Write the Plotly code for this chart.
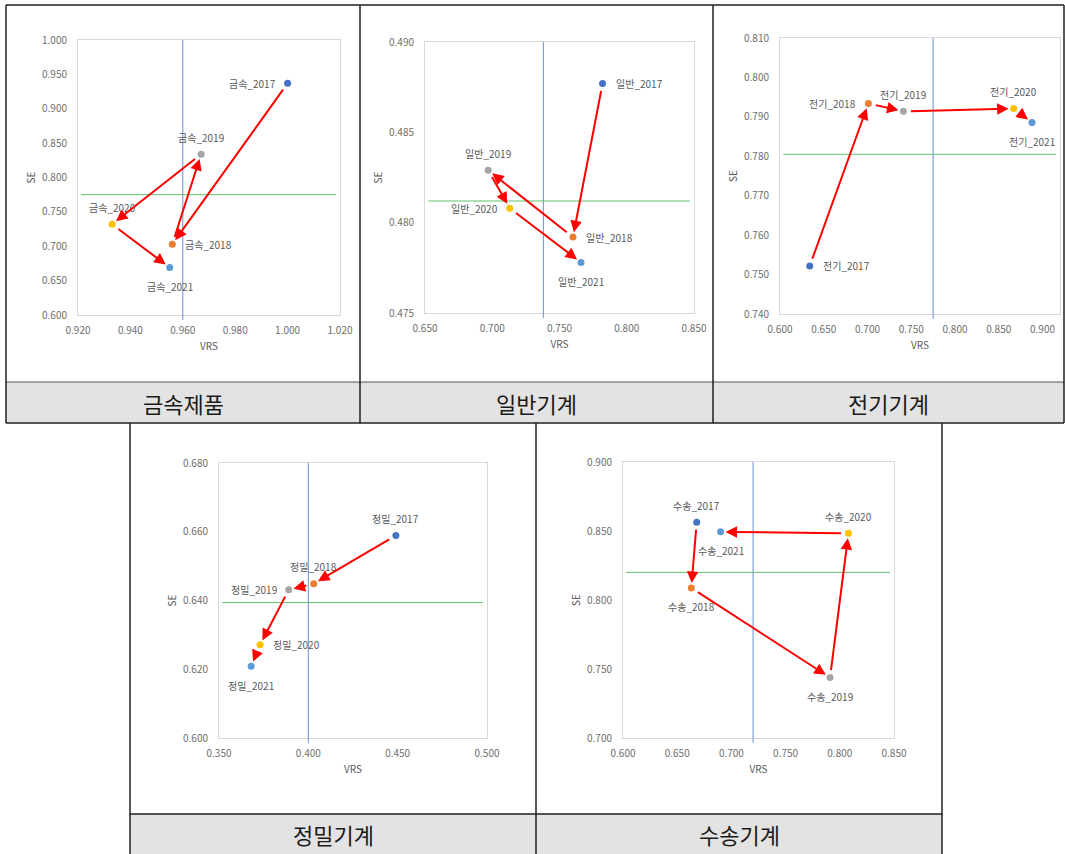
import plotly.graph_objects as go

# ---- data: VRS / SE efficiency by industry, 2017-2021 ----
years = [2017, 2018, 2019, 2020, 2021]
year_colors = ["#4472C4", "#ED7D31", "#A5A5A5", "#FFC000", "#5B9BD5"]

metal_vrs = [1.000, 0.956, 0.967, 0.933, 0.955]
metal_se = [0.937, 0.703, 0.834, 0.732, 0.669]

general_vrs = [0.782, 0.760, 0.697, 0.713, 0.766]
general_se = [0.4877, 0.4792, 0.4829, 0.4808, 0.4778]

elec_vrs = [0.634, 0.701, 0.741, 0.867, 0.888]
elec_se = [0.7522, 0.7934, 0.7914, 0.7921, 0.7886]

prec_vrs = [0.449, 0.403, 0.389, 0.373, 0.368]
prec_se = [0.6589, 0.6449, 0.6431, 0.6271, 0.6209]

trans_vrs = [0.668, 0.663, 0.791, 0.808, 0.690]
trans_se = [0.8564, 0.8087, 0.7438, 0.8484, 0.8494]

# reference (average) lines per industry
vrs_ref = [0.960, 0.738, 0.775, 0.400, 0.720]
se_ref = [0.775, 0.4812, 0.7805, 0.6394, 0.820]

# axis ticks
metal_xticks = [0.92, 0.94, 0.96, 0.98, 1.00, 1.02]
metal_yticks = [0.60, 0.65, 0.70, 0.75, 0.80, 0.85, 0.90, 0.95, 1.00]
general_xticks = [0.65, 0.70, 0.75, 0.80, 0.85]
general_yticks = [0.475, 0.480, 0.485, 0.490]
elec_xticks = [0.60, 0.65, 0.70, 0.75, 0.80, 0.85, 0.90]
elec_yticks = [0.74, 0.75, 0.76, 0.77, 0.78, 0.79, 0.80, 0.81]
prec_xticks = [0.35, 0.40, 0.45, 0.50]
prec_yticks = [0.60, 0.62, 0.64, 0.66, 0.68]
trans_xticks = [0.60, 0.65, 0.70, 0.75, 0.80, 0.85]
trans_yticks = [0.70, 0.75, 0.80, 0.85, 0.90]

# ---- page geometry (pixels) ----
W, H = 1065, 854
FONT = "Noto Sans CJK KR"


def px(x):
    return x / W


def py(y):
    return 1 - y / H


panels = [
    dict(title="금속제품", prefix="금속", vrs=metal_vrs, se=metal_se,
         xr=[0.92, 1.02], xt=metal_xticks, yr=[0.60, 1.00], yt=metal_yticks,
         box=(78, 340, 40, 315),
         pos=["left", "right", "top", "top", "bottom"]),
    dict(title="일반기계", prefix="일반", vrs=general_vrs, se=general_se,
         xr=[0.65, 0.85], xt=general_xticks, yr=[0.475, 0.490], yt=general_yticks,
         box=(425, 694, 42, 313),
         pos=["right", "right", "top", "left", "bottom"]),
    dict(title="전기기계", prefix="전기", vrs=elec_vrs, se=elec_se,
         xr=[0.60, 0.92], xt=elec_xticks, yr=[0.74, 0.81], yt=elec_yticks,
         box=(780, 1060, 38, 314),
         pos=["right", "left", "top", "top", "bottom"]),
    dict(title="정밀기계", prefix="정밀", vrs=prec_vrs, se=prec_se,
         xr=[0.35, 0.50], xt=prec_xticks, yr=[0.60, 0.68], yt=prec_yticks,
         box=(219, 487, 463, 738),
         pos=["top", "top", "left", "right", "bottom"]),
    dict(title="수송기계", prefix="수송", vrs=trans_vrs, se=trans_se,
         xr=[0.60, 0.85], xt=trans_xticks, yr=[0.70, 0.90], yt=trans_yticks,
         box=(623, 894, 462, 738),
         pos=["top", "bottom", "bottom", "top", "bottom"]),
]

# label placement around a point: (xanchor, yanchor, xshift, yshift)
LABEL_PLACE = {
    "top": ("center", "middle", 0, 17),
    "bottom": ("center", "middle", 0, -19),
    "left": ("right", "middle", -10, 0),
    "right": ("left", "middle", 11, 0),
}

fig = go.Figure()
label_font = dict(family=FONT, size=10, color="#595959")
tick_font = dict(family=FONT, size=10, color="#6e6e6e")

for i, p in enumerate(panels, start=1):
    xa = "x" if i == 1 else f"x{i}"
    ya = "y" if i == 1 else f"y{i}"
    xkey = "xaxis" if i == 1 else f"xaxis{i}"
    ykey = "yaxis" if i == 1 else f"yaxis{i}"
    l, r, t, b = p["box"]

    fig.update_layout({
        xkey: dict(domain=[px(l), px(r)], range=p["xr"], tickvals=p["xt"],
                   tickformat=".3f", anchor=ya, showgrid=False, zeroline=False,
                   showline=True, mirror=True, linecolor="#D9D9D9", linewidth=1,
                   ticks="outside", ticklen=6, tickcolor="rgba(0,0,0,0)",
                   tickfont=tick_font, fixedrange=True, automargin=False,
                   title=dict(text="VRS", font=label_font, standoff=6)),
        ykey: dict(domain=[py(b), py(t)], range=p["yr"], tickvals=p["yt"],
                   tickformat=".3f", anchor=xa, showgrid=False, zeroline=False,
                   showline=True, mirror=True, linecolor="#D9D9D9", linewidth=1,
                   ticks="outside", ticklen=8, tickcolor="rgba(0,0,0,0)",
                   tickfont=tick_font, fixedrange=True, automargin=False,
                   title=dict(text="SE", font=label_font, standoff=4)),
    })

    # reference lines
    fig.add_shape(type="line", xref=xa, yref=f"{ya} domain",
                  x0=vrs_ref[i - 1], x1=vrs_ref[i - 1], y0=-0.018, y1=1,
                  line=dict(color="#6A8FD6", width=1))
    fig.add_shape(type="line", xref=f"{xa} domain", yref=ya,
                  x0=0.012, x1=0.985, y0=se_ref[i - 1], y1=se_ref[i - 1],
                  line=dict(color="#5EC26C", width=1))

    # yearly points
    fig.add_trace(go.Scatter(
        x=p["vrs"], y=p["se"], mode="markers",
        marker=dict(color=year_colors, size=7, line=dict(width=0)),
        xaxis=xa, yaxis=ya, cliponaxis=False, showlegend=False,
        hoverinfo="skip"))

    # point labels
    for k, yr in enumerate(years):
        xanc, yanc, dx, dy = LABEL_PLACE[p["pos"][k]]
        fig.add_annotation(x=p["vrs"][k], y=p["se"][k], xref=xa, yref=ya,
                           text=f"{p['prefix']}_{yr}", showarrow=False,
                           font=label_font, xanchor=xanc, yanchor=yanc,
                           xshift=dx, yshift=dy)

    # year-to-year movement arrows
    for k in range(len(years) - 1):
        fig.add_annotation(
            x=p["vrs"][k + 1], y=p["se"][k + 1],
            ax=p["vrs"][k], ay=p["se"][k],
            xref=xa, yref=ya, axref=xa, ayref=ya,
            text="", showarrow=True, arrowhead=2, arrowsize=1.15,
            arrowwidth=2, arrowcolor="#FF0000", standoff=5, startstandoff=6)

# ---- table frame and caption cells ----
BORDER = "#1f1f1f"


def rect(x0, y0, x1, y1, fill):
    fig.add_shape(type="rect", xref="paper", yref="paper",
                  x0=px(x0), x1=px(x1), y0=py(y1), y1=py(y0),
                  fillcolor=fill, line=dict(width=0), layer="below")


def line(x0, y0, x1, y1, color=BORDER, width=1.5):
    fig.add_shape(type="line", xref="paper", yref="paper",
                  x0=px(x0), x1=px(x1), y0=py(y0), y1=py(y1),
                  line=dict(color=color, width=width))


# caption backgrounds
rect(6, 382, 1064, 423, "#E3E3E3")
rect(130, 814, 942, 854, "#E3E3E3")

# top row frame
line(6, 5, 1064, 5)
line(6, 423, 1064, 423)
line(6, 382, 1064, 382, color="#555555", width=1)
for xv in (6, 360, 713, 1064):
    line(xv, 5, xv, 423)

# bottom row frame
line(130, 814, 942, 814)
for xv in (130, 536, 942):
    line(xv, 423, xv, 854)

# caption texts
captions = [(183, 403), (536, 403), (888, 403), (333, 834), (739, 834)]
for p, (cx, cy) in zip(panels, captions):
    fig.add_annotation(xref="paper", yref="paper", x=px(cx), y=py(cy),
                       text=p["title"], showarrow=False,
                       font=dict(family=FONT, size=22, color="#1a1a1a"),
                       xanchor="center", yanchor="middle")

fig.update_layout(width=W, height=H,
                  margin=dict(l=0, r=0, t=0, b=0, pad=0, autoexpand=False),
                  paper_bgcolor="white", plot_bgcolor="white",
                  font=dict(family=FONT))

fig.write_html("out.html",
               post_script="document.body.style.margin='0';")
